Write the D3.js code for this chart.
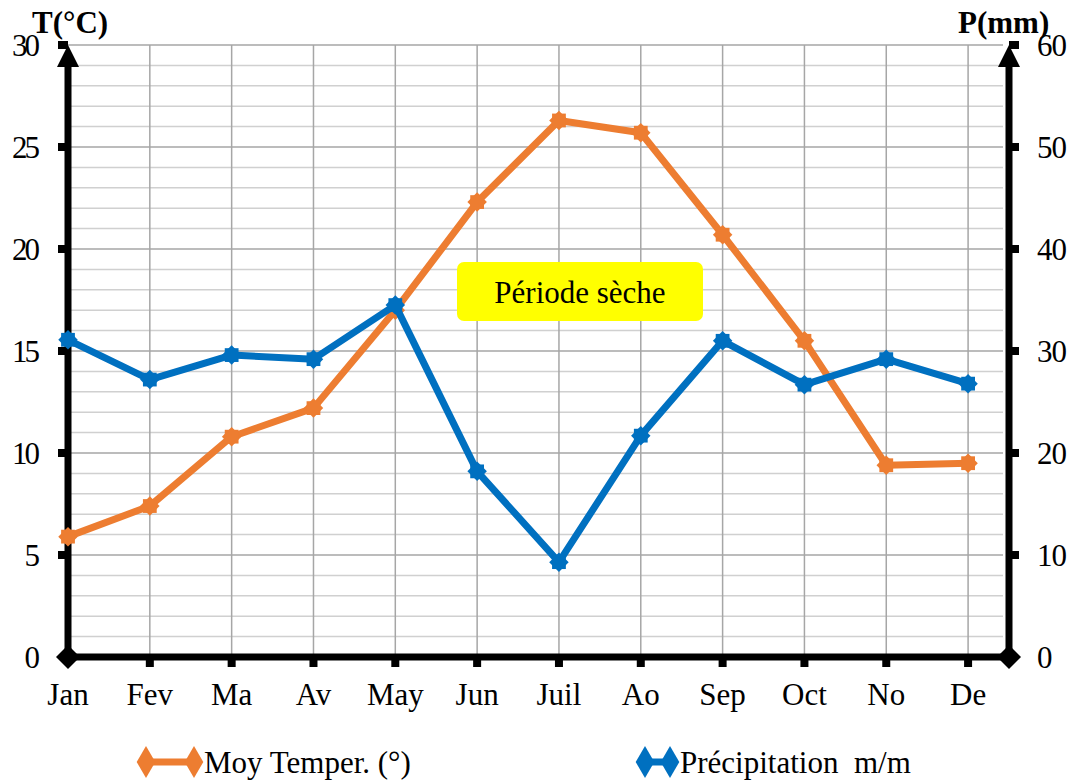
<!DOCTYPE html>
<html>
<head>
<meta charset="utf-8">
<script src="https://cdn.jsdelivr.net/npm/d3@7"></script>
<style>
  body { margin: 0; background: #fff; }
  svg { font-family: "Liberation Serif", "Times New Roman", serif; }
</style>
</head>
<body>
<div id="chart"></div>
<script>
const months = ["Jan", "Fev", "Ma", "Av", "May", "Jun", "Juil", "Ao", "Sep", "Oct", "No", "De"];
const temperature = [5.9, 7.4, 10.8, 12.2, 17.0, 22.3, 26.3, 25.7, 20.7, 15.5, 9.4, 9.5];
const precipitation = [31.1, 27.2, 29.6, 29.2, 34.5, 18.2, 9.3, 21.7, 31.0, 26.7, 29.2, 26.8];
const tempTicks = [0, 5, 10, 15, 20, 25, 30];
const precTicks = [0, 10, 20, 30, 40, 50, 60];

const W = 1078, H = 780;
const plotLeft = 68, plotRight = 1009, plotTop = 45, plotBottom = 657;

const svg = d3.select('#chart').append('svg')
    .attr('width', W)
    .attr('height', H);

const x = d3.scaleLinear().domain([0, 11.5]).range([plotLeft, plotRight]);
const yT = d3.scaleLinear().domain([0, 30]).range([plotBottom, plotTop]);
const yP = d3.scaleLinear().domain([0, 60]).range([plotBottom, plotTop]);

// grid
const grid = svg.append('g');
grid.selectAll('line.minor')
    .data(d3.range(1, 31).filter(v => v % 5 !== 0))
  .enter().append('line')
    .attr('x1', plotLeft).attr('x2', plotRight - 6)
    .attr('y1', d => yT(d)).attr('y2', d => yT(d))
    .style('stroke', '#d0d0d0')
    .style('stroke-width', 1.5);
grid.selectAll('line.major')
    .data(tempTicks.slice(1))
  .enter().append('line')
    .attr('x1', plotLeft).attr('x2', plotRight - 6)
    .attr('y1', d => yT(d)).attr('y2', d => yT(d))
    .style('stroke', '#a6a6a6')
    .style('stroke-width', 1.5);
grid.selectAll('line.v')
    .data(d3.range(1, 12))
  .enter().append('line')
    .attr('x1', d => x(d)).attr('x2', d => x(d))
    .attr('y1', plotTop).attr('y2', plotBottom)
    .style('stroke', '#a6a6a6')
    .style('stroke-width', 1.5);

// yellow label
svg.append('rect')
    .attr('x', 457).attr('y', 262)
    .attr('width', 246).attr('height', 59)
    .attr('rx', 7)
    .style('fill', '#ffff00');
svg.append('text')
    .attr('x', 580).attr('y', 303)
    .attr('text-anchor', 'middle')
    .attr('font-size', '31px')
    .text('Période sèche');

// axes
const axes = svg.append('g');
axes.append('line')
    .attr('x1', plotLeft).attr('x2', plotRight)
    .attr('y1', plotBottom).attr('y2', plotBottom)
    .style('stroke', '#000').style('stroke-width', 7);
[plotLeft, plotRight].forEach(ax => {
    axes.append('line')
        .attr('x1', ax).attr('x2', ax)
        .attr('y1', plotBottom).attr('y2', plotTop + 20)
        .style('stroke', '#000').style('stroke-width', 7);
    axes.append('path')
        .attr('d', `M${ax},${plotTop} L${ax - 11},${plotTop + 22} L${ax + 11},${plotTop + 22} Z`)
        .style('fill', '#000');
    axes.append('path')
        .attr('d', `M${ax - 12},${plotBottom} L${ax},${plotBottom - 12} L${ax + 12},${plotBottom} L${ax},${plotBottom + 12} Z`)
        .style('fill', '#000');
});

// tick marks
axes.selectAll('rect.xt')
    .data(d3.range(1, 12))
  .enter().append('rect')
    .attr('x', d => x(d) - 4).attr('y', plotBottom)
    .attr('width', 8).attr('height', 10)
    .style('fill', '#000');
axes.selectAll('rect.lt')
    .data(tempTicks.slice(1))
  .enter().append('rect')
    .attr('x', plotLeft - 10).attr('y', d => yT(d) - 4)
    .attr('width', 10).attr('height', 8)
    .style('fill', '#000');
axes.selectAll('rect.rt')
    .data(precTicks.slice(1))
  .enter().append('rect')
    .attr('x', plotRight).attr('y', d => yP(d) - 4)
    .attr('width', 10).attr('height', 8)
    .style('fill', '#000');

// tick labels
svg.selectAll('text.tl')
    .data(tempTicks)
  .enter().append('text')
    .attr('x', 40).attr('y', d => yT(d) + 11)
    .attr('text-anchor', 'end')
    .attr('font-size', '31px')
    .attr('textLength', d => d >= 10 ? 28 : 14)
    .text(d => d);
svg.selectAll('text.tr')
    .data(precTicks)
  .enter().append('text')
    .attr('x', 1037).attr('y', d => yP(d) + 11)
    .attr('text-anchor', 'start')
    .attr('font-size', '31px')
    .attr('textLength', d => d >= 10 ? 30 : 14)
    .text(d => d);
svg.selectAll('text.month')
    .data(months)
  .enter().append('text')
    .attr('x', (d, i) => x(i)).attr('y', 705)
    .attr('text-anchor', 'middle')
    .attr('font-size', '31px')
    .text(d => d);

svg.append('text')
    .attr('x', 32).attr('y', 33)
    .attr('font-size', '31px').attr('font-weight', 'bold')
    .text('T(°C)');
svg.append('text')
    .attr('x', 958).attr('y', 33)
    .attr('font-size', '31px').attr('font-weight', 'bold')
    .text('P(mm)');

// series
const diamond = d3.symbol().type(d3.symbolDiamond).size(300);
const square = d3.symbol().type(d3.symbolSquare).size(190);

function drawSeries(values, yScale, color) {
    const line = d3.line()
        .x((d, i) => x(i))
        .y(d => yScale(d));
    svg.append('path')
        .datum(values)
        .attr('d', line)
        .style('fill', 'none')
        .style('stroke', color)
        .style('stroke-width', 7)
        .style('stroke-linejoin', 'round');
    svg.selectAll(null)
        .data(values)
      .enter().append('path')
        .attr('transform', (d, i) => `translate(${x(i)},${yScale(d)}) rotate(45)`)
        .attr('d', square)
        .style('fill', color);
    svg.selectAll(null)
        .data(values)
      .enter().append('path')
        .attr('transform', (d, i) => `translate(${x(i)},${yScale(d)})`)
        .attr('d', square)
        .style('fill', color);
}

drawSeries(temperature, yT, '#ed7d31');
drawSeries(precipitation, yP, '#0070c0');

// legend
const legend = [
    { label: 'Moy Temper. (°)', color: '#ed7d31', x0: 146, x1: 194, tx: 204 },
    { label: 'Précipitation  m/m', color: '#0070c0', x0: 645, x1: 670, tx: 680 }
];
legend.forEach(l => {
    const g = svg.append('g');
    g.append('line')
        .attr('x1', l.x0).attr('x2', l.x1)
        .attr('y1', 762).attr('y2', 762)
        .style('stroke', l.color).style('stroke-width', 7);
    [l.x0, l.x1].forEach(cx => {
        g.append('path')
            .attr('transform', `translate(${cx},762)`)
            .attr('d', diamond)
            .style('fill', l.color);
    });
    g.append('text')
        .attr('x', l.tx).attr('y', 773)
        .attr('font-size', '31px')
        .style('white-space', 'pre')
        .attr('xml:space', 'preserve')
        .text(l.label);
});
</script>
</body>
</html>
